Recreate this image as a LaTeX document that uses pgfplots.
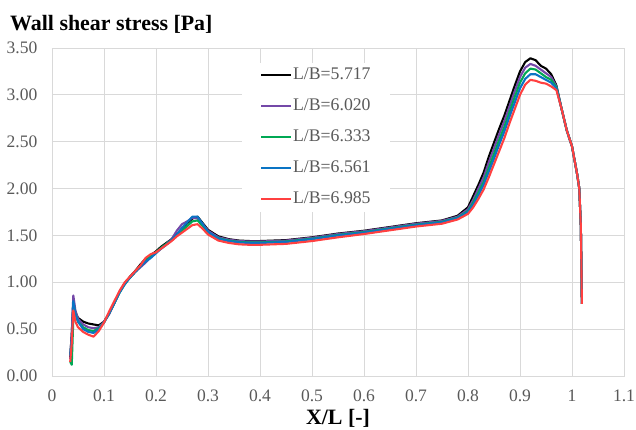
\documentclass[border=0pt]{standalone}
\usepackage{fontspec}
\setmainfont{Liberation Serif}
\usepackage{pgfplots}
\pgfplotsset{compat=1.18}

\definecolor{gridc}{HTML}{D9D9D9}
\definecolor{labc}{HTML}{595959}
\definecolor{lb1}{HTML}{000000}
\definecolor{lb2}{HTML}{7448A8}
\definecolor{lb3}{HTML}{00A854}
\definecolor{lb4}{HTML}{0A74C4}
\definecolor{lb5}{HTML}{FF4040}

\begin{document}
\begin{tikzpicture}
\begin{axis}[
    scale only axis,
    width=572bp, height=328bp,
    xmin=0, xmax=1.1, ymin=0, ymax=3.5,
    xtick={0,0.1,0.2,0.3,0.4,0.5,0.6,0.7,0.8,0.9,1,1.1},
    ytick={0,0.5,1,1.5,2,2.5,3,3.5},
    yticklabel style={/pgf/number format/fixed, /pgf/number format/fixed zerofill,
        /pgf/number format/precision=2, anchor=east, xshift=-14.5bp, inner sep=0pt},
    /pgf/number format/assume math mode=true,
    ticklabel style={font=\fontsize{17.6}{20}\selectfont, text=labc},
    xticklabel style={anchor=base, yshift=-25bp, inner sep=0pt},
    major tick length=0pt,
    grid=major,
    major grid style={gridc, line width=0.9bp},
    axis line style={gridc, line width=0.9bp},
    clip=false,
    legend style={at={(0.332,0.955)}, anchor=north west, fill=white, draw=none,
        font=\fontsize{17.8}{20}\selectfont,
        inner xsep=18bp, inner ysep=4bp, row sep=14bp,
        nodes={inner sep=1bp, text height=12bp, text depth=3bp}},
    legend cell align=left,
    legend image code/.code={\draw[line width=2bp, #1] (0bp,0bp) -- (30bp,0bp);},
    legend image post style={line width=2bp},
    every axis plot/.append style={line width=2.1bp, line join=round},
]
\addplot[lb1] table {
0.035 0.20
0.038 0.45
0.041 0.80
0.045 0.68
0.050 0.62
0.060 0.58
0.070 0.56
0.080 0.55
0.090 0.54
0.100 0.58
0.110 0.67
0.120 0.78
0.130 0.90
0.140 0.99
0.150 1.06
0.160 1.12
0.170 1.19
0.180 1.25
0.190 1.29
0.200 1.33
0.210 1.38
0.220 1.42
0.230 1.46
0.240 1.51
0.250 1.57
0.260 1.63
0.270 1.68
0.280 1.70
0.290 1.63
0.300 1.56
0.320 1.49
0.340 1.46
0.360 1.445
0.380 1.44
0.400 1.44
0.450 1.45
0.500 1.48
0.550 1.52
0.600 1.55
0.650 1.59
0.700 1.63
0.750 1.66
0.780 1.71
0.800 1.80
0.810 1.92
0.820 2.04
0.830 2.17
0.840 2.34
0.850 2.49
0.860 2.64
0.870 2.78
0.880 2.94
0.890 3.10
0.900 3.25
0.910 3.35
0.920 3.39
0.930 3.37
0.940 3.31
0.950 3.28
0.960 3.22
0.970 3.10
0.980 2.85
0.990 2.62
1.000 2.45
1.010 2.15
1.014 2.00
1.017 1.60
1.018 1.20
1.019 0.77
};
\addlegendentry{\textcolor{labc}{L/B=5.717}}
\addplot[lb2] table {
0.035 0.18
0.038 0.45
0.041 0.86
0.045 0.70
0.050 0.61
0.060 0.55
0.070 0.52
0.080 0.51
0.090 0.52
0.100 0.58
0.110 0.66
0.120 0.78
0.130 0.90
0.140 0.99
0.150 1.05
0.160 1.11
0.170 1.16
0.180 1.21
0.190 1.27
0.200 1.32
0.210 1.36
0.220 1.41
0.230 1.46
0.240 1.55
0.250 1.62
0.260 1.65
0.270 1.69
0.280 1.68
0.290 1.62
0.300 1.55
0.320 1.48
0.340 1.455
0.360 1.44
0.380 1.435
0.400 1.435
0.450 1.445
0.500 1.475
0.550 1.515
0.600 1.545
0.650 1.585
0.700 1.625
0.750 1.655
0.780 1.70
0.800 1.78
0.810 1.88
0.820 2.00
0.830 2.12
0.840 2.28
0.850 2.43
0.860 2.58
0.870 2.72
0.880 2.88
0.890 3.04
0.900 3.19
0.910 3.29
0.920 3.33
0.930 3.31
0.940 3.27
0.950 3.23
0.960 3.19
0.970 3.09
0.980 2.85
0.990 2.62
1.000 2.45
1.010 2.15
1.014 2.00
1.017 1.60
1.018 1.20
1.019 0.77
};
\addlegendentry{\textcolor{labc}{L/B=6.020}}
\addplot[lb3] table {
0.035 0.15
0.038 0.12
0.040 0.45
0.042 0.75
0.045 0.66
0.050 0.58
0.060 0.52
0.070 0.49
0.080 0.48
0.090 0.51
0.100 0.57
0.110 0.67
0.120 0.78
0.130 0.89
0.140 0.98
0.150 1.05
0.160 1.11
0.170 1.17
0.180 1.23
0.190 1.28
0.200 1.32
0.210 1.37
0.220 1.41
0.230 1.45
0.240 1.50
0.250 1.55
0.260 1.60
0.270 1.65
0.280 1.66
0.290 1.60
0.300 1.53
0.320 1.47
0.340 1.445
0.360 1.43
0.380 1.425
0.400 1.425
0.450 1.435
0.500 1.465
0.550 1.505
0.600 1.535
0.650 1.575
0.700 1.615
0.750 1.645
0.780 1.69
0.800 1.76
0.810 1.85
0.820 1.96
0.830 2.07
0.840 2.22
0.850 2.37
0.860 2.52
0.870 2.66
0.880 2.82
0.890 2.98
0.900 3.13
0.910 3.23
0.920 3.28
0.930 3.27
0.940 3.23
0.950 3.19
0.960 3.16
0.970 3.08
0.980 2.85
0.990 2.62
1.000 2.45
1.010 2.15
1.014 2.00
1.017 1.60
1.018 1.20
1.019 0.77
};
\addlegendentry{\textcolor{labc}{L/B=6.333}}
\addplot[lb4] table {
0.035 0.22
0.038 0.40
0.041 0.80
0.045 0.66
0.050 0.58
0.060 0.50
0.070 0.47
0.080 0.46
0.090 0.50
0.100 0.57
0.110 0.67
0.120 0.78
0.130 0.89
0.140 0.98
0.150 1.05
0.160 1.11
0.170 1.17
0.180 1.22
0.190 1.26
0.200 1.31
0.210 1.36
0.220 1.40
0.230 1.45
0.240 1.51
0.250 1.58
0.260 1.64
0.270 1.70
0.280 1.70
0.290 1.62
0.300 1.54
0.320 1.465
0.340 1.44
0.360 1.425
0.380 1.42
0.400 1.42
0.450 1.43
0.500 1.46
0.550 1.50
0.600 1.53
0.650 1.57
0.700 1.61
0.750 1.64
0.780 1.685
0.800 1.75
0.810 1.83
0.820 1.93
0.830 2.04
0.840 2.18
0.850 2.32
0.860 2.47
0.870 2.61
0.880 2.77
0.890 2.92
0.900 3.07
0.910 3.17
0.920 3.22
0.930 3.22
0.940 3.19
0.950 3.16
0.960 3.13
0.970 3.07
0.980 2.85
0.990 2.62
1.000 2.45
1.010 2.15
1.014 2.00
1.017 1.60
1.018 1.20
1.019 0.77
};
\addlegendentry{\textcolor{labc}{L/B=6.561}}
\addplot[lb5] table {
0.035 0.15
0.038 0.35
0.041 0.70
0.045 0.58
0.050 0.52
0.060 0.47
0.070 0.44
0.080 0.42
0.090 0.48
0.100 0.57
0.110 0.69
0.120 0.80
0.130 0.91
0.140 1.00
0.150 1.06
0.160 1.12
0.170 1.18
0.180 1.26
0.190 1.30
0.200 1.32
0.210 1.36
0.220 1.40
0.230 1.44
0.240 1.49
0.250 1.53
0.260 1.57
0.270 1.61
0.280 1.62
0.290 1.57
0.300 1.51
0.320 1.445
0.340 1.42
0.360 1.405
0.380 1.40
0.400 1.40
0.450 1.41
0.500 1.44
0.550 1.48
0.600 1.515
0.650 1.555
0.700 1.595
0.750 1.625
0.780 1.67
0.800 1.73
0.810 1.80
0.820 1.89
0.830 1.99
0.840 2.12
0.850 2.26
0.860 2.40
0.870 2.54
0.880 2.70
0.890 2.85
0.900 3.00
0.910 3.11
0.920 3.16
0.930 3.15
0.940 3.13
0.950 3.12
0.960 3.09
0.970 3.05
0.980 2.85
0.990 2.62
1.000 2.45
1.010 2.15
1.014 2.00
1.017 1.60
1.018 1.20
1.019 0.77
};
\addlegendentry{\textcolor{labc}{L/B=6.985}}
\node[anchor=base west, inner sep=0pt, font=\fontsize{22}{26}\selectfont\bfseries]
    at ([xshift=-42bp, yshift=18bp]rel axis cs:0,1) {Wall shear stress [Pa]};
\node[anchor=base, inner sep=0pt, font=\fontsize{22}{26}\selectfont\bfseries]
    at ([yshift=-48bp]rel axis cs:0.5,0) {X/L [-]};
\end{axis}
\path (current axis.south west) ++(-52bp,-54bp) rectangle ++(636bp,430bp);
\end{tikzpicture}
\end{document}
